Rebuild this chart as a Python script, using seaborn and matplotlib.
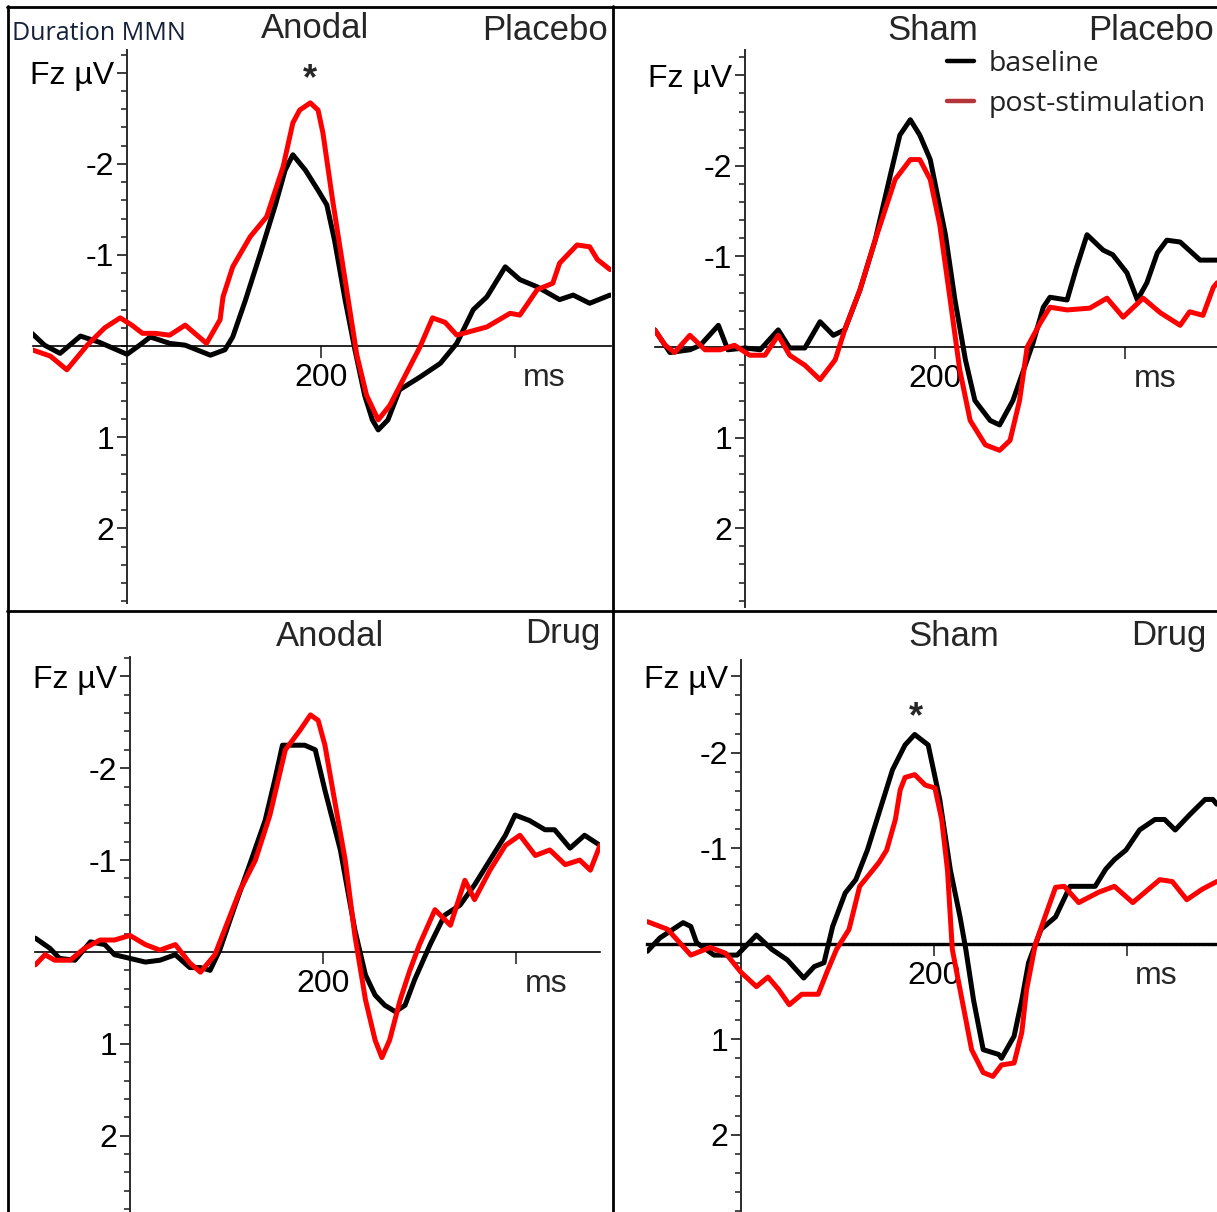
import numpy as np
import pandas as pd
import matplotlib
matplotlib.use("Agg")
import matplotlib.pyplot as plt
from matplotlib.lines import Line2D
from matplotlib.ticker import MultipleLocator
import seaborn as sns

# ---------------------------------------------------------------
# Grand-average duration MMN at Fz (time in ms, amplitude in µV)
# ---------------------------------------------------------------
# Anodal / Placebo
tl_base_t = [-98, -85, -69, -48, -28, 0, 13, 24, 44, 60, 86, 101, 109, 122, 137, 153, 163, 171,
             184, 197, 206, 214, 225, 235, 245, 253, 259, 269, 281, 302, 323, 340, 357, 371,
             390, 405, 423, 446, 460, 477, 498]
tl_base_v = [-0.14, -0.01, 0.08, -0.11, -0.04, 0.09, -0.01, -0.10, -0.03, -0.01, 0.10, 0.04,
             -0.10, -0.50, -1.00, -1.55, -1.93, -2.10, -1.93, -1.71, -1.55, -1.16, -0.50, 0.04,
             0.54, 0.81, 0.92, 0.81, 0.48, 0.34, 0.19, -0.03, -0.40, -0.54, -0.87, -0.73,
             -0.65, -0.51, -0.56, -0.47, -0.56]
tl_post_t = [-98, -79, -62, -41, -23, -7, 5, 16, 29, 44, 60, 82, 96, 99, 109, 127, 144, 161,
             171, 178, 189, 197, 202, 212, 227, 237, 247, 259, 271, 287, 302, 315, 328, 340,
             371, 395, 405, 423, 439, 446, 464, 477, 485, 498]
tl_post_v = [0.04, 0.11, 0.26, -0.01, -0.20, -0.31, -0.23, -0.14, -0.14, -0.12, -0.23, -0.03,
             -0.29, -0.54, -0.87, -1.20, -1.42, -1.97, -2.45, -2.59, -2.67, -2.59, -2.34,
             -1.60, -0.58, 0.10, 0.54, 0.81, 0.65, 0.32, 0.01, -0.31, -0.26, -0.12, -0.21,
             -0.36, -0.34, -0.62, -0.69, -0.91, -1.11, -1.09, -0.95, -0.84]

# Sham / Placebo
tr_base_t = [-95, -79, -58, -47, -28, -18, 0, 16, 35, 47, 63, 79, 93, 105, 121, 137, 153, 163,
             174, 184, 195, 211, 221, 232, 242, 258, 268, 282, 303, 314, 321, 339, 349, 360,
             377, 387, 402, 413, 423, 434, 444, 458, 479, 497]
tr_base_v = [-0.19, 0.06, 0.03, -0.02, -0.24, 0.03, 0.01, 0.03, -0.19, 0.01, 0.01, -0.28,
             -0.13, -0.19, -0.63, -1.18, -1.90, -2.34, -2.51, -2.34, -2.07, -1.24, -0.52,
             0.14, 0.59, 0.81, 0.86, 0.59, -0.04, -0.44, -0.55, -0.52, -0.88, -1.24, -1.07,
             -1.02, -0.82, -0.52, -0.71, -1.04, -1.18, -1.16, -0.96, -0.96]
tr_post_t = [-95, -84, -74, -58, -42, -26, -11, 5, 21, 35, 47, 63, 79, 95, 105, 121, 137, 158,
             174, 184, 195, 205, 216, 226, 237, 253, 268, 279, 289, 297, 311, 321, 339, 363,
             381, 398, 419, 437, 458, 468, 482, 493, 497]
tr_post_v = [-0.19, -0.02, 0.06, -0.13, 0.03, 0.03, -0.02, 0.09, 0.09, -0.13, 0.09, 0.20,
             0.36, 0.14, -0.19, -0.63, -1.18, -1.85, -2.07, -2.07, -1.85, -1.35, -0.52, 0.25,
             0.81, 1.08, 1.14, 1.03, 0.59, 0.00, -0.27, -0.44, -0.41, -0.43, -0.54, -0.33,
             -0.54, -0.38, -0.24, -0.39, -0.35, -0.66, -0.71]

# Anodal / Drug
bl_base_t = [-98, -83, -73, -57, -41, -26, -16, 0, 16, 31, 47, 62, 73, 83, 93, 109, 124, 140,
             150, 158, 171, 181, 192, 202, 218, 233, 244, 254, 264, 275, 285, 295, 311, 326,
             342, 357, 373, 389, 399, 414, 430, 440, 456, 471, 487]
bl_base_v = [-0.15, -0.04, 0.07, 0.09, -0.11, -0.08, 0.03, 0.07, 0.11, 0.09, 0.03, 0.17, 0.17,
             0.20, -0.02, -0.51, -0.95, -1.43, -1.87, -2.25, -2.25, -2.25, -2.20, -1.76,
             -1.11, -0.24, 0.25, 0.47, 0.58, 0.65, 0.58, 0.30, -0.08, -0.40, -0.51, -0.73,
             -1.00, -1.27, -1.49, -1.43, -1.33, -1.33, -1.13, -1.27, -1.16]
bl_post_t = [-98, -88, -78, -62, -47, -31, -16, 0, 16, 31, 47, 62, 73, 88, 98, 114, 130, 145,
             161, 176, 187, 195, 202, 212, 223, 233, 244, 254, 261, 269, 280, 290, 300, 316,
             332, 347, 357, 373, 389, 404, 420, 435, 451, 466, 477, 487]
bl_post_v = [0.14, 0.03, 0.09, 0.09, -0.04, -0.13, -0.13, -0.18, -0.08, -0.02, -0.08, 0.12,
             0.22, 0.03, -0.24, -0.67, -1.00, -1.49, -2.20, -2.41, -2.58, -2.52, -2.25,
             -1.65, -1.00, -0.18, 0.52, 0.96, 1.15, 0.96, 0.52, 0.20, -0.08, -0.46, -0.29,
             -0.78, -0.57, -0.89, -1.16, -1.27, -1.05, -1.11, -0.95, -1.00, -0.89, -1.16]

# Sham / Drug
br_base_t = [-97, -84, -60, -52, -46, -28, -4, 16, 32, 48, 65, 76, 86, 95, 108, 119, 131, 144,
             157, 170, 180, 194, 206, 217, 227, 233, 241, 251, 267, 270, 283, 291, 298, 311,
             326, 341, 367, 378, 387, 399, 413, 429, 439, 450, 465, 481, 489, 493]
br_base_v = [0.08, -0.06, -0.22, -0.18, -0.01, 0.12, 0.12, -0.09, 0.06, 0.17, 0.36, 0.24,
             0.20, -0.18, -0.53, -0.67, -0.98, -1.40, -1.82, -2.08, -2.19, -2.08, -1.51,
             -0.77, -0.28, 0.06, 0.59, 1.11, 1.16, 1.20, 0.97, 0.59, 0.20, -0.15, -0.28,
             -0.60, -0.60, -0.78, -0.88, -0.98, -1.19, -1.30, -1.30, -1.19, -1.35, -1.51,
             -1.51, -1.46]
br_post_t = [-97, -76, -60, -52, -32, -16, 0, 16, 28, 39, 50, 63, 80, 89, 99, 112, 123, 143,
             151, 160, 165, 170, 180, 191, 201, 208, 214, 219, 227, 239, 251, 261, 270, 283,
             291, 296, 305, 315, 326, 335, 350, 371, 387, 406, 434, 447, 462, 478, 493]
br_post_v = [-0.23, -0.15, 0.03, 0.12, 0.04, 0.10, 0.30, 0.45, 0.35, 0.48, 0.64, 0.53, 0.53,
             0.30, 0.06, -0.15, -0.60, -0.85, -0.98, -1.30, -1.61, -1.74, -1.77, -1.66,
             -1.63, -1.30, -0.77, 0.06, 0.48, 1.11, 1.35, 1.39, 1.27, 1.25, 0.93, 0.48, 0.01,
             -0.28, -0.59, -0.60, -0.43, -0.54, -0.60, -0.43, -0.67, -0.65, -0.46, -0.57,
             -0.65]

sessions = ["baseline", "post-stimulation"]
stim_labels = ["Anodal", "Sham", "Anodal", "Sham"]
drug_labels = ["Placebo", "Placebo", "Drug", "Drug"]
amp_ticks = [-2, -1, 1, 2]
amp_ticklabels = ["-2", "-1", "1", "2"]
time_ticks = [200, 400]
time_ticklabels = ["200", ""]

curves = [
    (tl_base_t, tl_base_v, tl_post_t, tl_post_v),
    (tr_base_t, tr_base_v, tr_post_t, tr_post_v),
    (bl_base_t, bl_base_v, bl_post_t, bl_post_v),
    (br_base_t, br_base_v, br_post_t, br_post_v),
]

# ---------------------------------------------------------------
# Figure setup
# ---------------------------------------------------------------
sns.set_style("white")
plt.rcParams["font.family"] = ["Liberation Sans", "DejaVu Sans"]

W, H = 1217, 1212
fig = plt.figure(figsize=(W / 100, H / 100), dpi=100)
fig.patch.set_facecolor("white")

def px(x, y):
    return x / W, 1 - y / H

# panel layout: pixel box (left, top, right, bottom), x-limits, y-limits (bottom, top),
# y level for the "Fz µV" label, title positions
layout = [
    dict(box=(33, 50, 611, 603), xlim=(-96.9, 499.0), ylim=(2.82, -3.25), fz=-3.0,
         stim=(315, 29), drug=(608, 31)),
    dict(box=(655, 50, 1217, 607), xlim=(-94.7, 496.8), ylim=(2.87, -3.28), fz=-3.0,
         stim=(933, 31), drug=(1214, 31)),
    dict(box=(35, 657, 600, 1212), xlim=(-98.4, 487.0), ylim=(2.83, -3.21), fz=-3.0,
         stim=(330, 637), drug=(600, 634)),
    dict(box=(647, 660, 1217, 1212), xlim=(-97.4, 493.3), ylim=(2.81, -2.97), fz=-2.8,
         stim=(954, 637), drug=(1207, 636)),
]

palette = {"baseline": "#000000", "post-stimulation": "#ff0000"}
axis_col = "#2b2b2b"

axes = []
for i, spec in enumerate(layout):
    l, t, r, b = spec["box"]
    ax = fig.add_axes([l / W, 1 - b / H, (r - l) / W, (b - t) / H])
    ax.set_facecolor("none")
    axes.append(ax)

    bt, bv, pt, pv = curves[i]
    df = pd.DataFrame({
        "time": list(bt) + list(pt),
        "amp": list(bv) + list(pv),
        "session": ["baseline"] * len(bt) + ["post-stimulation"] * len(pt),
    })
    sns.lineplot(data=df, x="time", y="amp", hue="session", hue_order=sessions,
                 palette=palette, estimator=None, sort=False, linewidth=3.6,
                 legend=False, ax=ax, zorder=3)
    for ln in ax.get_lines():
        ln.set_solid_joinstyle("round")
        ln.set_solid_capstyle("round")

    ax.set_xlim(*spec["xlim"])
    ax.set_ylim(*spec["ylim"])
    ax.set_xlabel("")
    ax.set_ylabel("")

    for side in ("top", "right"):
        ax.spines[side].set_visible(False)
    ax.spines["left"].set_position(("data", 0))
    ax.spines["bottom"].set_position(("data", 0))
    ax.spines["left"].set_color(axis_col)
    ax.spines["left"].set_linewidth(1.4)
    ax.spines["bottom"].set_color("black")
    ax.spines["bottom"].set_linewidth(1.2)
    if i == 3:
        ax.spines["bottom"].set_linewidth(2.4)
        ax.spines["bottom"].set_linestyle((0, (0.45, 0.9)))
    ax.spines["left"].set_zorder(1)
    ax.spines["bottom"].set_zorder(1)

    # amplitude axis (negative up)
    ax.set_yticks([spec["fz"]] + amp_ticks)
    ax.set_yticklabels(["Fz µV"] + amp_ticklabels)
    ax.yaxis.set_minor_locator(MultipleLocator(0.2))
    ax.tick_params(axis="y", which="both", left=True, right=False)
    ax.tick_params(axis="y", which="major", direction="out", length=7, width=1.3,
                   color=axis_col, pad=2, labelsize=23, labelcolor="black")
    ax.tick_params(axis="y", which="minor", direction="out", length=4.2, width=1.2,
                   color=axis_col)

    # time axis
    ax.set_xticks(time_ticks)
    ax.set_xticklabels(time_ticklabels)
    ax.tick_params(axis="x", which="major", bottom=True, top=False, direction="out",
                   length=8.5, width=1.2, color=axis_col, pad=4, labelsize=23,
                   labelcolor="black")
    ax.annotate("ms", xy=(time_ticks[1], 0), xycoords="data", xytext=(6, -23),
                textcoords="offset points", ha="left", va="center", fontsize=23)

    # condition titles
    sx, sy = spec["stim"]
    fig.text(*px(sx, sy), stim_labels[i], ha="center", va="center", fontsize=25)
    dx, dy = spec["drug"]
    fig.text(*px(dx, dy), drug_labels[i], ha="right", va="center", fontsize=25)

# significance markers
axes[0].text(189, -2.92, "*", ha="center", va="center", fontsize=26, fontweight="bold")
axes[3].text(181, -2.37, "*", ha="center", va="center", fontsize=26, fontweight="bold")

# legend
handles = [Line2D([], [], color="black", lw=3.2),
           Line2D([], [], color="#b3353a", lw=3.2)]
leg = axes[1].legend(handles, sessions, loc="upper left",
                     bbox_to_anchor=px(947, 50), bbox_transform=fig.transFigure,
                     frameon=False, handlelength=0.95, handletextpad=0.5,
                     labelspacing=0.42, borderpad=0, borderaxespad=0,
                     prop={"family": ["Open Sans", "DejaVu Sans"], "size": 20.5})
for txt in leg.get_texts():
    txt.set_color("#222222")

# figure heading
fig.text(*px(12, 33), "Duration MMN", ha="left", va="center", fontsize=18,
         family=["Open Sans", "DejaVu Sans"], color="#15203a")

# panel frame lines
frame = [((7, 6.5), (1217, 6.5)), ((7.5, 6), (7.5, 1212)), ((613, 6), (613, 1212)),
         ((7, 610.5), (1217, 610.5))]
for (x0, y0), (x1, y1) in frame:
    fx0, fy0 = px(x0, y0)
    fx1, fy1 = px(x1, y1)
    fig.add_artist(Line2D([fx0, fx1], [fy0, fy1], transform=fig.transFigure,
                          color="black", lw=2.0))

fig.savefig("out.png", dpi=100, facecolor="white")
